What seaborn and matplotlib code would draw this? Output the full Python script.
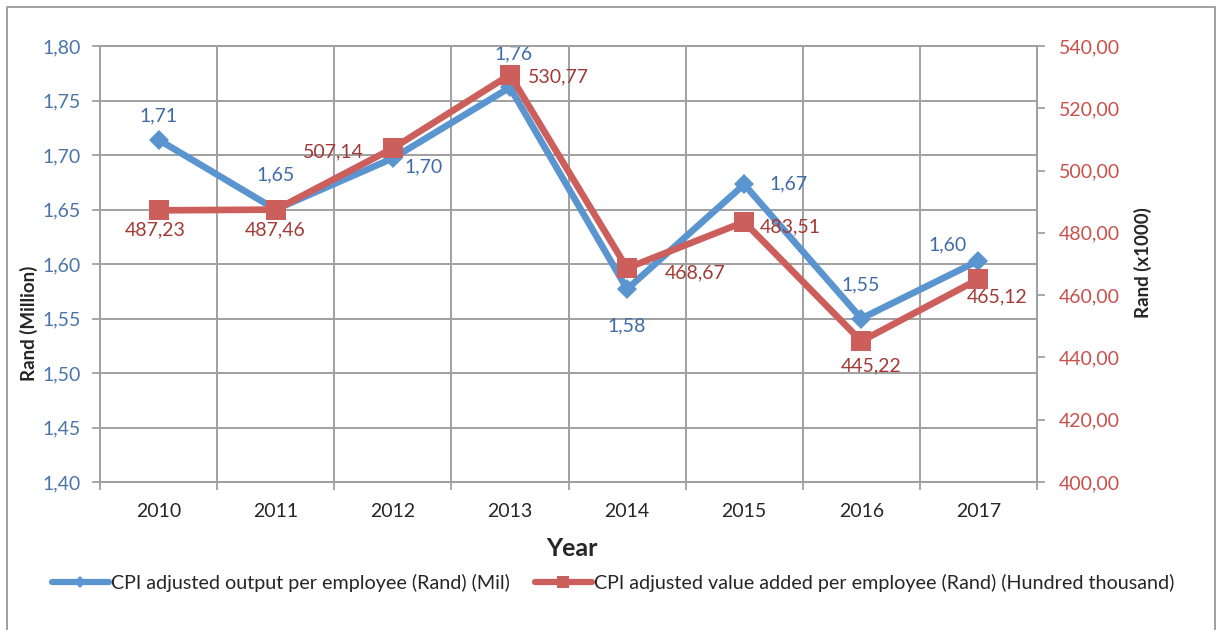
import matplotlib
matplotlib.use("Agg")
import matplotlib.pyplot as plt
from matplotlib.lines import Line2D
from matplotlib.ticker import FixedLocator, FuncFormatter
import seaborn as sns
import numpy as np
import pandas as pd

# data
years = ["2010", "2011", "2012", "2013", "2014", "2015", "2016", "2017"]
output_mil = [1.714, 1.650, 1.697, 1.762, 1.577, 1.673, 1.550, 1.603]
value_added = [487.23, 487.46, 507.14, 530.77, 468.67, 483.51, 445.22, 465.12]

name_out = "CPI adjusted output per employee (Rand) (Mil)"
name_va = "CPI adjusted value added per employee (Rand) (Hundred thousand)"

# label offsets in pixels (dx, dy), as placed in the original
blue_off = [(0, 24), (0, 35), (31, -9), (4, 34), (0, -37), (44, 1), (-1, 34), (-31, 16)]
red_off = [(-3, -20), (-1, -20), (-59, -4), (48, -2), (68, -5), (46, -5), (10, -25), (19, -18)]

BLUE = "#5B95D0"
RED = "#CC5F5B"
BLUE_TXT = "#3F6CA8"
RED_TXT = "#A23A35"
RED_TICK = "#C9504B"
GRID = "#A0A0A0"

sns.set_style("white")
plt.rcParams["font.family"] = ["Lato", "DejaVu Sans"]

W, H = 1218, 630
fig = plt.figure(figsize=(W / 100, H / 100), dpi=100)
ax = fig.add_axes([100 / W, 1 - 482 / H, (1037 - 100) / W, (482 - 46) / H])
ax2 = ax.twinx()

df = pd.DataFrame({"x": np.arange(len(years)), "out": output_mil, "va": value_added})

sns.lineplot(data=df, x="x", y="out", ax=ax, color=BLUE, lw=4.8, marker="D",
             markersize=10.5, markeredgewidth=0, zorder=3)
sns.lineplot(data=df, x="x", y="va", ax=ax2, color=RED, lw=4.8, marker="s",
             markersize=14.5, markeredgewidth=0, zorder=3)

fmt = lambda v, p=None: f"{v:.2f}".replace(".", ",")

# left axis
ax.set_ylim(1.40, 1.80)
ax.set_yticks(np.arange(1.40, 1.801, 0.05))
ax.yaxis.set_major_formatter(FuncFormatter(fmt))
ax.tick_params(axis="y", which="major", direction="out", length=6, width=1.3,
               color=GRID, labelsize=14, labelcolor="#4A74AA", pad=8, left=True)
ax.grid(axis="y", color=GRID, lw=1.4)

# categorical x axis: labels centered, ticks/grid at band edges
ax.set_xlim(-0.5, len(years) - 0.5)
ax.set_xticks(np.arange(len(years)))
ax.set_xticklabels(years)
ax.xaxis.set_minor_locator(FixedLocator(np.arange(-0.5, len(years), 1.0)))
ax.tick_params(axis="x", which="major", length=0, labelsize=14, pad=15)
ax.tick_params(axis="x", which="minor", direction="out", length=6, width=1.3,
               color=GRID, bottom=True)
ax.grid(axis="x", which="minor", color=GRID, lw=1.4)
ax.set_xlabel("")
ax.set_ylabel("")

# right axis
ax2.set_ylim(400, 540)
ax2.set_yticks(np.arange(400, 541, 20))
ax2.yaxis.set_major_formatter(FuncFormatter(fmt))
ax2.tick_params(axis="y", direction="out", length=6, width=1.3, color=GRID,
                labelsize=14, labelcolor=RED_TICK, pad=10, right=True)
ax2.set_ylabel("")
ax2.grid(False)

for a in (ax, ax2):
    for s in a.spines.values():
        s.set_color(GRID)
        s.set_linewidth(1.4)

# data labels
for i, v in enumerate(output_mil):
    ax.annotate(fmt(v), (i, v), xytext=blue_off[i], textcoords="offset pixels",
                ha="center", va="center", fontsize=14, color=BLUE_TXT, zorder=5)
for i, v in enumerate(value_added):
    ax2.annotate(fmt(v), (i, v), xytext=red_off[i], textcoords="offset pixels",
                 ha="center", va="center", fontsize=14, color=RED_TXT, zorder=5)

# axis titles
fig.text(572 / W, 1 - 549 / H, "Year", ha="center", va="center",
         fontsize=18, fontweight="bold")
fig.text(29 / W, 1 - 323 / H, "Rand (Million)", ha="center", va="center",
         rotation=90, fontsize=13.5, fontweight="bold")
fig.text(1143 / W, 1 - 263 / H, "Rand (x1000)", ha="center", va="center",
         rotation=90, fontsize=13.5, fontweight="bold")

# legend
handles = [
    Line2D([], [], color=BLUE, lw=4.5, marker="D", markersize=6, markeredgewidth=0),
    Line2D([], [], color=RED, lw=4.5, marker="s", markersize=8, markeredgewidth=0),
]
fig.legend(handles, [name_out, name_va], loc="center", ncol=2,
           bbox_to_anchor=(613 / W, 1 - 583 / H), frameon=False, fontsize=14.2,
           handlelength=2.9, handletextpad=0.1, columnspacing=1.25)

# outer chart border (open at the bottom like the cropped original)
fig.add_artist(Line2D([6.5 / W, 6.5 / W, 1215 / W, 1215 / W],
                      [0, 1 - 7 / H, 1 - 7 / H, 0],
                      transform=fig.transFigure, color=GRID, lw=1.4))

fig.savefig("out.png", dpi=100)
